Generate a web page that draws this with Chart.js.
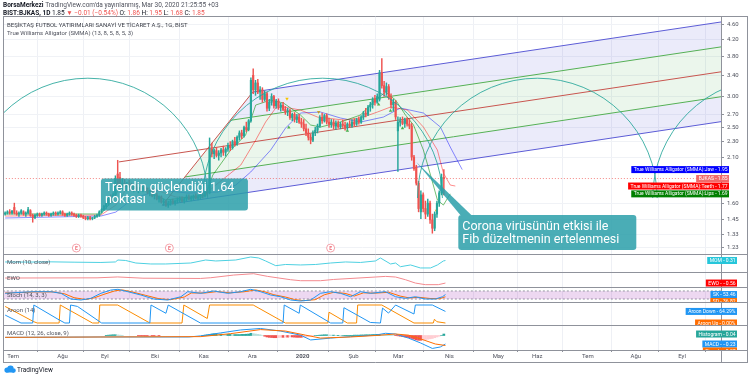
<!DOCTYPE html>
<html>
<head>
<meta charset="utf-8">
<script src="https://cdn.jsdelivr.net/npm/chart.js@4.4.1/dist/chart.umd.min.js"></script>
<style>
	html, body { margin: 0; background: #fff; }
</style>
</head>
<body>
<canvas id="chart" width="750" height="378"></canvas>
<script>
// daily candles, BIST:BJKAS, late Jun 2019 .. Mar 30 2020: [open, high, low, close]
const candles = [
	[1.50,1.52,1.49,1.51],[1.51,1.53,1.50,1.52],[1.52,1.54,1.50,1.51],[1.51,1.53,1.50,1.53],[1.56,1.60,1.50,1.51],[1.51,1.53,1.49,1.50],[1.50,1.52,1.48,1.51],[1.51,1.54,1.50,1.53],
	[1.52,1.53,1.49,1.50],[1.50,1.52,1.48,1.51],[1.51,1.56,1.50,1.54],[1.53,1.54,1.48,1.49],[1.49,1.50,1.43,1.47],[1.47,1.50,1.46,1.49],[1.49,1.51,1.48,1.50],[1.50,1.51,1.48,1.49],
	[1.49,1.51,1.48,1.50],[1.50,1.52,1.49,1.51],[1.51,1.52,1.49,1.50],[1.50,1.51,1.48,1.49],[1.49,1.51,1.48,1.50],[1.50,1.52,1.49,1.51],[1.51,1.52,1.49,1.50],[1.50,1.52,1.49,1.51],
	[1.51,1.53,1.50,1.52],[1.52,1.53,1.49,1.50],[1.50,1.51,1.48,1.49],[1.49,1.51,1.48,1.50],[1.50,1.52,1.49,1.51],[1.51,1.52,1.49,1.50],[1.50,1.51,1.48,1.49],[1.49,1.50,1.47,1.48],
	[1.48,1.50,1.47,1.49],[1.49,1.50,1.47,1.48],[1.48,1.49,1.46,1.47],[1.47,1.48,1.45,1.46],[1.46,1.48,1.45,1.47],[1.47,1.48,1.45,1.46],[1.46,1.47,1.45,1.47],[1.47,1.49,1.46,1.48],
	[1.48,1.50,1.47,1.49],[1.49,1.53,1.48,1.52],[1.52,1.55,1.51,1.54],[1.54,1.58,1.53,1.57],[1.57,1.62,1.55,1.60],[1.60,1.66,1.58,1.64],[1.64,1.68,1.60,1.62],[1.62,1.70,1.61,1.68],
	[1.68,1.88,1.66,1.85],[1.90,2.06,1.76,1.78],[1.86,1.92,1.74,1.77],[1.77,1.85,1.73,1.80],[1.80,1.84,1.74,1.76],[1.76,1.81,1.72,1.79],[1.79,1.83,1.75,1.77],[1.77,1.80,1.72,1.74],
	[1.74,1.78,1.71,1.76],[1.76,1.79,1.72,1.73],[1.73,1.77,1.70,1.75],[1.75,1.78,1.72,1.74],[1.74,1.77,1.71,1.76],[1.76,1.78,1.72,1.73],[1.73,1.75,1.69,1.70],[1.70,1.73,1.67,1.72],
	[1.72,1.74,1.66,1.67],[1.67,1.70,1.64,1.68],[1.68,1.70,1.63,1.64],[1.64,1.67,1.61,1.66],[1.66,1.67,1.60,1.61],[1.61,1.64,1.58,1.62],[1.62,1.63,1.57,1.58],[1.58,1.62,1.56,1.60],
	[1.60,1.63,1.58,1.62],[1.62,1.64,1.59,1.60],[1.60,1.63,1.58,1.62],[1.62,1.65,1.60,1.63],[1.63,1.66,1.61,1.64],[1.64,1.66,1.61,1.62],[1.62,1.65,1.60,1.64],[1.64,1.68,1.62,1.66],
	[1.66,1.68,1.63,1.64],[1.64,1.67,1.62,1.65],[1.65,1.68,1.63,1.67],[1.67,1.69,1.64,1.65],[1.65,1.68,1.63,1.66],[1.66,1.70,1.64,1.68],[1.68,1.71,1.65,1.67],[1.67,1.72,1.66,1.70],
	[1.70,1.73,1.67,1.69],[1.70,2.35,1.69,2.20],[2.20,2.28,2.10,2.14],[2.14,2.20,2.08,2.18],[2.18,2.22,2.10,2.12],[2.12,2.18,2.06,2.15],[2.15,2.21,2.10,2.19],[2.19,2.24,2.12,2.16],
	[2.16,2.22,2.11,2.20],[2.20,2.28,2.17,2.25],[2.25,2.30,2.18,2.22],[2.22,2.32,2.20,2.30],[2.30,2.36,2.24,2.27],[2.27,2.38,2.25,2.36],[2.36,2.45,2.32,2.42],[2.42,2.46,2.34,2.38],
	[2.38,2.52,2.36,2.50],[2.50,2.58,2.44,2.47],[2.47,2.62,2.45,2.60],[2.60,3.35,2.58,3.30],[3.40,3.53,3.05,3.12],[3.12,3.30,3.02,3.25],[3.25,3.32,3.05,3.08],[3.08,3.18,2.95,3.12],
	[3.12,3.16,2.90,2.95],[2.95,3.10,2.92,3.05],[3.05,3.08,2.75,2.80],[2.80,2.95,2.76,2.90],[2.90,3.05,2.85,3.00],[3.00,3.02,2.80,2.84],[2.84,2.95,2.80,2.92],[2.92,2.96,2.78,2.82],
	[2.82,2.88,2.75,2.85],[2.85,2.90,2.76,2.78],[2.78,2.83,2.70,2.74],[2.74,2.80,2.68,2.76],[2.76,2.78,2.62,2.65],[2.65,2.72,2.60,2.70],[2.70,2.73,2.58,2.62],[2.62,2.70,2.57,2.66],
	[2.66,2.70,2.56,2.58],[2.58,2.64,2.50,2.55],[2.55,2.62,2.45,2.48],[2.48,2.55,2.38,2.42],[2.42,2.48,2.32,2.36],[2.36,2.40,2.27,2.32],[2.32,2.45,2.30,2.42],[2.42,2.50,2.38,2.46],
	[2.46,2.55,2.42,2.52],[2.52,2.68,2.50,2.65],[2.65,2.72,2.56,2.60],[2.60,2.70,2.58,2.68],[2.68,2.71,2.55,2.58],[2.58,2.64,2.50,2.55],[2.55,2.62,2.50,2.58],[2.58,2.62,2.48,2.52],
	[2.52,2.60,2.47,2.56],[2.56,2.60,2.49,2.51],[2.51,2.58,2.48,2.55],[2.55,2.61,2.50,2.53],[2.53,2.58,2.46,2.50],[2.50,2.57,2.47,2.55],[2.55,2.60,2.50,2.52],[2.52,2.62,2.50,2.58],
	[2.58,2.63,2.52,2.55],[2.55,2.64,2.53,2.62],[2.62,2.66,2.55,2.58],[2.58,2.68,2.56,2.66],[2.66,2.75,2.62,2.72],[2.72,2.80,2.66,2.70],[2.70,2.85,2.68,2.82],[2.82,2.90,2.75,2.86],
	[2.86,2.98,2.80,2.95],[2.95,3.02,2.85,2.90],[2.90,3.05,2.88,3.00],[2.95,3.50,2.92,3.45],[3.45,3.75,3.15,3.20],[3.20,3.28,3.00,3.08],[3.08,3.25,3.02,3.18],[3.18,3.22,2.95,2.98],
	[2.98,3.05,2.80,2.86],[2.86,2.95,2.75,2.90],[2.90,2.93,2.62,2.66],[2.45,2.66,1.93,2.58],[2.58,2.65,2.52,2.60],[2.60,2.66,2.54,2.56],[2.56,2.64,2.50,2.62],[2.62,2.65,2.52,2.55],
	[2.55,2.62,2.48,2.52],[2.52,2.56,2.06,2.10],[2.10,2.12,1.94,1.96],[1.98,2.00,1.78,1.80],[1.80,1.82,1.52,1.55],[1.52,1.72,1.46,1.68],[1.68,1.70,1.52,1.55],[1.55,1.62,1.46,1.50],
	[1.50,1.64,1.48,1.60],[1.60,1.62,1.42,1.45],[1.45,1.50,1.34,1.38],[1.38,1.52,1.36,1.50],[1.50,1.62,1.47,1.60],[1.60,1.72,1.57,1.70],[1.70,1.90,1.68,1.86],[1.86,1.95,1.68,1.85]
];

// axes
const priceTicks = [1.23, 1.33, 1.45, 1.60, 2.10, 2.30, 2.50, 2.70, 3.00, 3.40, 3.80, 4.20, 4.60];
const monthTicks = [3.5, 25, 43.4, 65.2, 86.5, 107.6, 129.5, 151.7, 171.2, 193.4, 214.7, 231.7, 253.7, 274.6, 294.7];
const monthLabels = ['Tem', 'Ağu', 'Eyl', 'Eki', 'Kas', 'Ara', '2020', 'Şub', 'Mar', 'Nis', 'May', 'Haz', 'Tem', 'Ağu', 'Eyl'];
const lastPrice = 1.85;

// True Williams Alligator, [bar, price]
const jawLine = [[0,1.466],[19.9,1.474],[41.7,1.483],[48.2,1.518],[56,1.649],[67.8,1.729],[79.5,1.698],[92.5,1.708],[100.4,1.78],[106.9,1.922],[115.6,2.188],[122.1,2.491],[128.6,2.722],[137.3,2.738],[146,2.643],[154.7,2.581],[164.7,2.658],[172.1,2.803],[182.1,2.722],[189.5,2.506],[193.8,2.227],[199,1.95]];
const teethLine = [[0,1.483],[41.7,1.492],[48.2,1.582],[52.5,1.729],[63.4,1.749],[74.3,1.659],[85.2,1.649],[91.7,1.78],[102.6,2.003],[109.1,2.321],[113.4,2.581],[117.8,2.803],[121.2,2.82],[128.6,2.77],[136,2.658],[147.3,2.612],[154.7,2.643],[162.1,2.738],[167.8,2.82],[175.2,2.77],[182.1,2.506],[188.2,2.188],[190.8,1.911],[193.8,1.78],[196,1.77]];
const lipsLine = [[0,1.501],[41.7,1.501],[46.9,1.63],[50.4,1.78],[59.1,1.749],[69.9,1.63],[80.8,1.659],[87.3,1.678],[90.4,1.888],[98.2,2.188],[104.7,2.391],[109.1,2.853],[115.6,2.938],[121.2,2.887],[128.6,2.69],[133,2.536],[137.3,2.506],[146,2.581],[154.7,2.69],[161.2,2.938],[165.6,3.081],[170,2.938],[174.3,2.69],[177.8,2.536],[182.1,2.188],[185.2,1.888],[188.2,1.63],[190.8,1.582],[193.8,1.69]];

// Williams fractals, [bar, price]
const fractalUp = [[123.5,2.50],[149,2.45],[162.6,2.86],[167.8,2.76],[173,2.49]];
const fractalDown = [[122.7,2.96],[136.5,2.74],[187.8,1.53]];

// earnings marks, bar positions
const earningsBars = [31.0, 71.5, 141.7];
const earningsPrice = 1.228;

// Andrews pitchfork anchors [bar, price]
const forkA = [49.5, 2.04];
const forkB = [68.4, 1.58];
const forkC = [107.8, 3.08];

// arcs [centre bar, centre price, radius in bars]
const arcs = [[36.0,1.649,52.17],[138.2,1.649,52.17],[231.7,1.649,52.17],[334.1,1.649,52.17]];

// indicator panes, [bar, value]
const momLine = [[0,0.04],[10,0.02],[20,0.06],[30,0],[41.7,-0.05],[48,0.04],[49.1,0.4],[52.5,0.31],[56.9,-0.15],[63.4,-0.33],[69.9,-0.33],[80.8,-0.15],[87.3,0.4],[91.7,0.22],[100.4,0.4],[106.9,0.95],[110.4,0.77],[113.4,0.22],[117.8,-0.64],[122.1,-0.42],[128.6,-0.51],[135.2,-0.42],[141.7,-0.15],[148.2,0.04],[154.7,-0.05],[161.2,0.22],[163.4,0.77],[167.8,-0.33],[170,-0.15],[172.1,-0.83],[176.5,-0.51],[180.8,-1.06],[185.2,-1.06],[188.2,-0.51],[190.8,0.22],[191.7,0.31]];
const ewoLine = [[0,0],[40,0.02],[49,0.12],[60,-0.02],[85,-0.05],[89.5,0.03],[99.5,0.33],[108.2,0.48],[114.3,0.18],[124.3,-0.19],[128.6,-0.3],[137.3,-0.3],[143,-0.16],[161.2,0.11],[165.6,0.18],[170,0.11],[174.3,-0.19],[178.6,-0.56],[182.9,-0.74],[188.6,-0.74],[191.7,-0.56]];
const stochK = [[0,62.7],[6.9,70],[12.5,74.6],[19.9,74.6],[24.3,62.7],[28.6,20],[33,12.7],[37.3,25],[41.7,62.7],[46,87],[49.1,92.5],[53.4,74.6],[59.1,50],[64.7,20],[70.8,12.7],[76.5,37],[79.5,74.6],[85.2,62.7],[90.8,80],[96.9,62.7],[102.5,74.6],[106.9,92.5],[111.2,74.6],[115.6,50],[119.9,37],[124.3,12.7],[128.6,5],[133,12.7],[137.3,62.7],[141.7,74.6],[146,62.7],[150.4,37],[154.7,74.6],[159.1,62.7],[165.6,74.6],[170,37],[174.3,25],[178.6,37],[182.9,20],[187.3,20],[190.4,37],[191.7,53.46]];
const stochD = [[0,65],[7,68],[13,73],[21,73],[26,58],[30,30],[35,16],[39,30],[43,55],[48,82],[51,88],[55,74],[61,48],[67,22],[72,15],[78,35],[81,65],[87,65],[92,75],[98,66],[104,74],[109,88],[113,74],[117,52],[122,35],[126,16],[130,8],[135,15],[139,52],[143,70],[148,62],[152,42],[156,66],[161,64],[167,70],[172,42],[176,28],[180,33],[185,24],[189,22],[191.7,36.8]];
const stochBand = [80, 20];
const aroonUp = [[0,92],[12.5,7],[14,0],[23.5,0],[24,100],[38,0],[40.8,0],[41.2,100],[49,100],[63,0],[77,0],[77.8,100],[88,25],[89,100],[108,100],[122,0],[140.5,0],[141,60],[149,0],[153,0],[153.5,100],[164,100],[178,0],[186.4,0],[186.9,21],[188,7],[191.7,0]];
const aroonDown = [[0,44],[6.9,0],[12,0],[12.5,100],[23,21],[26,0],[28,0],[28.5,100],[31.5,92],[42,0],[63,0],[63.5,100],[70,54],[71,100],[85,0],[121,0],[121.5,100],[128,54],[128.5,100],[141.7,0],[147,0],[147.5,85],[159,3],[163.4,0],[164.3,83],[166.9,55],[170,100],[178,50],[178.6,100],[186,100],[191.7,64.29]];
const macdLine = [[0,-0.05],[41.7,-0.04],[80,-0.04],[85.2,-0.01],[93.8,0.07],[102.5,0.15],[111.2,0.19],[119.9,0.12],[128.6,0.01],[133,-0.12],[141.7,-0.07],[150.4,-0.03],[161.2,0.01],[165.6,0.06],[170,0.04],[175.6,-0.07],[180.8,-0.2],[186,-0.35],[189.5,-0.31],[191.7,-0.23]];
const signalLine = [[0,-0.05],[85.2,-0.03],[98.2,0.05],[111.2,0.16],[122.1,0.12],[130.8,0.01],[137.3,-0.07],[150.4,-0.04],[161.2,0],[170,0.04],[175.6,0.01],[180.8,-0.09],[187.3,-0.23],[191.7,-0.27]];
const histRuns = [
	[44, [0.005,0.01,0.015,0.02,0.02,0.015,0.01,0.005]],
	[58, [-0.005,-0.01,-0.01,-0.015,-0.015,-0.01,-0.01,-0.01,-0.005,-0.005]],
	[86, [0.005,0.01,0.015,0.03,0.04,0.045,0.045,0.04,0.04,0.035,0.03,0.03,0.03,0.025,0.025,0.025,0.025,0.03,0.03,0.035,0.04,0.06,0.05,0.04,0.03]],
	[111, [0.02,0,-0.02,-0.04,-0.05,-0.055,-0.06,-0.06,-0.055,-0.05,-0.05,-0.045,-0.045,-0.04,-0.04,-0.045,-0.05,-0.05,-0.05,-0.045,-0.04,-0.03,-0.02,-0.01,0]],
	[136, [0.005,0.01,0.015,0.02,0.02,0.015,0.01,0.01,0.005,0.005,0,0,0.005,0.005,0.005,0.005,0.01,0.01,0.01,0.015,0.015,0.02,0.02,0.02,0.025,0.025,0.03,0.03,0.025,0.02,0.015,0.01,0.005,0,-0.005]],
	[171, [-0.01,-0.02,-0.03,-0.04,-0.05,-0.06,-0.08,-0.1,-0.12,-0.13,-0.13,-0.12,-0.11,-0.1,-0.09,-0.08,-0.06,-0.04,-0.02,0]],
	[191, [0.04]]
];

// price-axis tags: name, value text, value, scale, colour
const axisTags = [
	['True Williams Alligator (SMMA):Jaw', '1.95', 1.95, 'y', '#0000ff'],
	['BJKAS', '1.85', 1.85, 'y', '#f06a6a'],
	['True Williams Alligator (SMMA):Teeth', '1.77', 1.77, 'y', '#ff0000'],
	['True Williams Alligator (SMMA):Lips', '1.69', 1.69, 'y', '#008000'],
	['MOM', '0.31', 0.31, 'yMom', '#26c6da'],
	['EWO', '−0.56', -0.56, 'yEwo', '#ff0000'],
	['SK', '53.46', 53.46, 'yStoch', '#2196f3'],
	['SD', '36.82', 36.82, 'yStoch', '#ff6d00'],
	['Aroon Down', '64.29%', 64.29, 'yAroon', '#2196f3'],
	['Aroon Up', '0.00%', 0, 'yAroon', '#ff6d00'],
	['Histogram', '0.04', 0.04, 'yMacd', '#26a69a'],
	['MACD', '−0.23', -0.23, 'yMacd', '#2196f3'],
	['Signal', '−0.27', -0.27, 'yMacd', '#ff6d00']
];

const notes = [
	{ bar: 41.7, price: 1.85, w: 147, h: 32, l1: 9, lines: ['Trendin güçlendiği 1.64', 'noktası'] },
	{ bar: 197.3, price: 1.492, w: 178, h: 35, l1: 12, lines: ['Corona virüsünün etkisi ile', 'Fib düzeltmenin ertelenmesi'], tip: [179, 2.04] }
];

const upColor = '#26a69a';
const downColor = '#ef5350';
const FONT = 'Roboto, "Open Sans", sans-serif';
const xMax = 311.67;

const pts = arr => arr.map(p => ({ x: p[0], y: p[1] }));

// pitchfork geometry in (bar, log price)
const mid = (p, q) => [(p[0] + q[0]) / 2, Math.sqrt(p[1] * q[1])];
const forkM = mid(forkB, forkC);
const forkSlope = (Math.log(forkM[1]) - Math.log(forkA[1])) / (forkM[0] - forkA[0]);
const forkEnd = 330;
const reach = p => ({ x: forkEnd, y: Math.exp(Math.log(p[1]) + forkSlope * (forkEnd - p[0])) });
const upG = mid(forkM, forkC);
const loG = mid(forkB, forkM);
const pt = p => ({ x: p[0], y: p[1] });
const ray = p => [pt(p), reach(p)];

const lineDs = (data, color, axis, extra) => Object.assign({
	type: 'line', data: data, yAxisID: axis, borderColor: color, borderWidth: 1,
	pointRadius: 0, tension: 0, fill: false
}, extra || {});

const histData = [];
histRuns.forEach(([start, vals]) => vals.forEach((v, k) => histData.push({ x: start + k, y: v })));
const histColors = histData.map((d, k) => {
	const prev = k > 0 && histData[k - 1].x === d.x - 1 ? histData[k - 1].y : 0;
	if (d.y >= 0) return d.y >= prev ? '#26a69a' : '#b2dfdb';
	return d.y <= prev ? '#ef5350' : '#ffcdd2';
});

const candleColors = candles.map(c => c[3] >= c[0] ? upColor : downColor);

const datasets = [
	// candles
	{ type: 'bar', data: candles.map((c, i) => ({ x: i, y: [Math.min(c[0], c[3]), Math.max(c[0], c[3])] })), yAxisID: 'y',
		backgroundColor: candleColors, barThickness: 1.5, minBarLength: 1, grouped: false },
	{ type: 'bar', data: candles.map((c, i) => ({ x: i, y: [c[2], c[1]] })), yAxisID: 'y',
		backgroundColor: candleColors, barThickness: 0.8, grouped: false },
	// alligator
	lineDs(pts(lipsLine), 'rgba(0,140,0,0.55)', 'y'),
	lineDs(pts(teethLine), 'rgba(255,0,0,0.45)', 'y'),
	lineDs(pts(jawLine), 'rgba(0,0,255,0.45)', 'y'),
	// fractals
	{ type: 'scatter', data: pts(fractalUp), yAxisID: 'y', pointStyle: 'triangle', pointRadius: 2,
		backgroundColor: '#4caf50', borderWidth: 0 },
	{ type: 'scatter', data: pts(fractalDown), yAxisID: 'y', pointStyle: 'triangle', rotation: 180, pointRadius: 2,
		backgroundColor: '#f5c400', borderWidth: 0 },
	// pitchfork lines
	lineDs(ray(forkA), '#c8554f', 'y'),
	lineDs([pt(forkB), pt(forkC)], '#c8554f', 'y'),
	lineDs(ray(forkC), '#5c5cd6', 'y'),
	lineDs(ray(forkB), '#5c5cd6', 'y'),
	lineDs(ray(upG), '#55b055', 'y'),
	lineDs(ray(loG), '#55b055', 'y'),
	// last price line
	lineDs([{ x: -1, y: lastPrice }, { x: xMax + 1, y: lastPrice }], 'rgba(239,83,80,0.7)', 'y', { borderDash: [1, 2] }),
	// pitchfork fills
	lineDs([pt(forkC), reach(forkC), reach(upG), pt(upG)], 'transparent', 'y', { borderWidth: 0, fill: 'shape', backgroundColor: 'rgba(92,92,214,0.12)' }),
	lineDs([pt(upG), reach(upG), reach(loG), pt(loG)], 'transparent', 'y', { borderWidth: 0, fill: 'shape', backgroundColor: 'rgba(76,175,80,0.11)' }),
	lineDs([pt(loG), reach(loG), reach(forkB), pt(forkB)], 'transparent', 'y', { borderWidth: 0, fill: 'shape', backgroundColor: 'rgba(92,92,214,0.12)' }),
	// Mom, EWO
	lineDs(pts(momLine), '#4dd0e1', 'yMom'),
	lineDs(pts(ewoLine), '#f48a8f', 'yEwo'),
	// stoch
	lineDs(pts(stochK), '#2196f3', 'yStoch'),
	lineDs(pts(stochD), '#ff6d00', 'yStoch'),
	lineDs([{ x: -1, y: stochBand[0] }, { x: xMax + 1, y: stochBand[0] }], '#9598a1', 'yStoch', { borderDash: [2, 2], fill: '+1', backgroundColor: 'rgba(156,39,176,0.18)' }),
	lineDs([{ x: -1, y: stochBand[1] }, { x: xMax + 1, y: stochBand[1] }], '#9598a1', 'yStoch', { borderDash: [2, 2] }),
	// aroon
	lineDs(pts(aroonDown), '#2196f3', 'yAroon'),
	lineDs(pts(aroonUp), '#fb8c00', 'yAroon'),
	// macd
	lineDs(pts(signalLine), '#ff6d00', 'yMacd'),
	lineDs(pts(macdLine), '#2196f3', 'yMacd'),
	{ type: 'bar', data: histData, yAxisID: 'yMacd', backgroundColor: histColors, barThickness: 2, grouped: false }
];

const axisGrey = '#8f929b';
const fitRight = s => { s.width = 29; };
const pane = (min, max, weight) => ({
	type: 'linear', position: 'right', stack: 'panes', stackWeight: weight, min: min, max: max,
	ticks: { display: false }, grid: { display: false }, border: { color: axisGrey }, afterFit: fitRight
});

const decor = {
	id: 'decor',
	afterDatasetsDraw(chart) {
		const { ctx, chartArea: a, scales: { x, y } } = chart;
		ctx.save();
		ctx.beginPath();
		ctx.rect(a.left, y.top, a.right - a.left, y.bottom - y.top);
		ctx.clip();
		ctx.strokeStyle = 'rgba(38,166,154,0.85)';
		ctx.lineWidth = 1;
		arcs.forEach(([ci, cp, rb]) => {
			const cx = x.getPixelForValue(ci);
			const cy = y.getPixelForValue(cp);
			const r = x.getPixelForValue(ci + rb) - cx;
			ctx.beginPath();
			ctx.arc(cx, cy, r, Math.PI, 2 * Math.PI);
			ctx.stroke();
		});
		// earnings "E"
		earningsBars.forEach(b => {
			const px = x.getPixelForValue(b), py = y.getPixelForValue(earningsPrice);
			ctx.beginPath();
			ctx.arc(px, py, 4, 0, 2 * Math.PI);
			ctx.fillStyle = '#fff';
			ctx.fill();
			ctx.strokeStyle = '#f4a3ab';
			ctx.stroke();
			ctx.fillStyle = '#ef6f7a';
			ctx.font = 'bold 5px ' + FONT;
			ctx.textAlign = 'center';
			ctx.textBaseline = 'middle';
			ctx.fillText('E', px, py + 0.5);
		});
		ctx.restore();
	},
	afterDraw(chart) {
		const { ctx, chartArea: a, scales } = chart;
		const { x, y } = scales;
		ctx.save();
		// frame and pane separators
		ctx.strokeStyle = axisGrey;
		ctx.lineWidth = 1;
		const hline = (py, x0, x1) => { ctx.beginPath(); ctx.moveTo(x0, Math.round(py) + 0.5); ctx.lineTo(x1, Math.round(py) + 0.5); ctx.stroke(); };
		const vline = (px, y0, y1) => { ctx.beginPath(); ctx.moveTo(Math.round(px) + 0.5, y0); ctx.lineTo(Math.round(px) + 0.5, y1); ctx.stroke(); };
		['yMom', 'yEwo', 'yStoch', 'yAroon', 'yMacd'].forEach(id => hline(scales[id].top, 3, 748));
		hline(a.bottom, 3, 748);
		hline(16, 3, 748);
		hline(362, 3, 748);
		vline(3, 16, 362);
		vline(747, 16, 362);
		vline(a.right, a.bottom, 362);

		// header
		ctx.textBaseline = 'middle';
		ctx.textAlign = 'left';
		const run = (parts, px, py) => {
			parts.forEach(([t, color, bold]) => {
				ctx.font = (bold ? 'bold ' : '') + '6.5px ' + FONT;
				ctx.fillStyle = color;
				ctx.fillText(t, px, py);
				px += ctx.measureText(t).width;
			});
		};
		run([['BorsaMerkezi', '#131722', true], [' TradingView.com\'da yayınlanmış, Mar 30, 2020 21:25:55 +03', '#50535e']], 3, 5);
		run([['BIST:BJKAS, 1D', '#131722', true], [' 1.85 ', '#131722'], ['▼ −0.01 (−0.54%)', '#ef5350'],
			[' O: ', '#131722'], ['1.86', '#ef5350'], [' H: ', '#131722'], ['1.95', '#ef5350'],
			[' L: ', '#131722'], ['1.68', '#ef5350'], [' C: ', '#131722'], ['1.85', '#ef5350']], 3, 13);

		// pane legends
		ctx.font = '6px ' + FONT;
		ctx.fillStyle = '#3b3e47';
		ctx.fillText('BEŞİKTAŞ FUTBOL YATIRIMLARI SANAYİ VE TİCARET A.Ş., 1G, BIST', 7, 25);
		ctx.fillStyle = '#50535e';
		ctx.fillText('True Williams Alligator (SMMA) (13, 8, 5, 8, 5, 3)', 7, 33);
		[['Mom (10, close)', 'yMom', 8], ['EWO', 'yEwo', 6], ['Stoch (14, 3, 3)', 'yStoch', 8], ['Aroon (14)', 'yAroon', 8], ['MACD (12, 26, close, 9)', 'yMacd', 8]]
			.forEach(([t, id, dy]) => ctx.fillText(t, 7, scales[id].top + dy));

		// callouts
		notes.forEach(n => {
			const bx = x.getPixelForValue(n.bar), by = y.getPixelForValue(n.price);
			ctx.fillStyle = 'rgba(42,159,169,0.85)';
			if (n.tip) {
				const tx = x.getPixelForValue(n.tip[0]), ty = y.getPixelForValue(n.tip[1]);
				ctx.beginPath();
				ctx.moveTo(tx, ty);
				ctx.lineTo(bx + 13, by);
				ctx.lineTo(bx + 2, by);
				ctx.closePath();
				ctx.fill();
			}
			ctx.beginPath();
			ctx.roundRect(bx, by, n.w, n.h, 3);
			ctx.fill();
			ctx.fillStyle = '#fff';
			ctx.font = '12.5px ' + FONT;
			n.lines.forEach((t, k) => ctx.fillText(t, bx + 4, by + n.l1 + k * 12.5));
		});

		// price-axis tags
		const groups = {};
		axisTags.forEach(tag => { (groups[tag[3]] = groups[tag[3]] || []).push(tag); });
		ctx.font = '5px ' + FONT;
		Object.keys(groups).forEach(id => {
			const s = scales[id];
			let last = -Infinity;
			const right = id === 'y' ? 729 : 737;
			groups[id].map(t => [t, s.getPixelForValue(t[2])]).sort((p, q) => p[1] - q[1]).forEach(([t, py]) => {
				py = Math.max(py, last + 7);
				last = py;
				const text = t[0] + ' - ' + t[1];
				const w = ctx.measureText(text).width;
				ctx.save();
				ctx.beginPath();
				ctx.rect(0, s.top + 1, 750, s.bottom - s.top - 1);
				ctx.clip();
				ctx.fillStyle = t[4];
				ctx.fillRect(right - w - 4, py - 3.5, w + 4, 7);
				ctx.fillStyle = '#fff';
				ctx.textAlign = 'right';
				ctx.fillText(text, right - 1.5, py + 0.3);
				ctx.restore();
			});
		});

		// logo
		ctx.fillStyle = '#2196f3';
		ctx.beginPath();
		ctx.arc(7, 370, 2.6, 0, 2 * Math.PI);
		ctx.arc(10.5, 368.8, 3.2, 0, 2 * Math.PI);
		ctx.arc(13.5, 370.5, 2.3, 0, 2 * Math.PI);
		ctx.fill();
		ctx.fillRect(6, 370, 8, 2.5);
		ctx.fillStyle = '#131722';
		ctx.font = '6.5px ' + FONT;
		ctx.textAlign = 'left';
		ctx.fillText('TradingView', 17, 370.5);
		ctx.restore();
	}
};

new Chart(document.getElementById('chart'), {
	type: 'line',
	data: { datasets: datasets },
	options: {
		responsive: false,
		animation: false,
		events: [],
		layout: { padding: { left: 3, top: 17, right: 0, bottom: 16 } },
		plugins: { legend: { display: false }, tooltip: { enabled: false } },
		scales: {
			x: {
				type: 'linear', min: -0.5, max: xMax, offset: false,
				afterBuildTicks: s => { s.ticks = monthTicks.map(v => ({ value: v })); },
				ticks: {
					callback: (v, k) => monthLabels[k], autoSkip: false, maxRotation: 0, padding: 1, color: '#50535e',
					font: c => ({ size: 6, family: FONT, weight: monthLabels[c.index] === '2020' ? 'bold' : 'normal' })
				},
				grid: { color: '#eef0f5', tickLength: 2, tickColor: axisGrey },
				border: { color: axisGrey },
				afterFit: s => { s.height = 12; }
			},
			y: {
				type: 'logarithmic', position: 'right', stack: 'panes', stackWeight: 237,
				min: 1.1856, max: 4.794,
				afterBuildTicks: s => { s.ticks = priceTicks.map(v => ({ value: v })); },
				ticks: { callback: v => Number(v).toFixed(2), autoSkip: false, padding: 3, color: '#50535e', font: { size: 6, family: FONT } },
				grid: { color: '#f0f2f6', tickLength: 3, tickColor: axisGrey },
				border: { color: axisGrey },
				afterFit: fitRight
			},
			yMom: pane(-1.8, 1.5, 18),
			yEwo: pane(-1.0, 0.67, 15),
			yStoch: pane(-2.2, 109.7, 15),
			yAroon: pane(-11.1, 116.7, 23),
			yMacd: pane(-0.392, 0.284, 25)
		}
	},
	plugins: [decor]
});
</script>
</body>
</html>
